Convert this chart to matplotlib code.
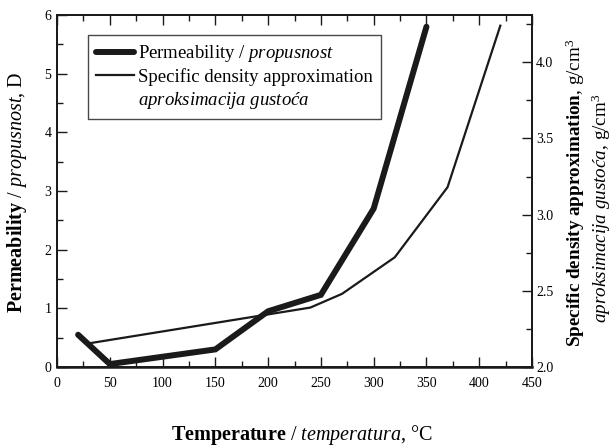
import matplotlib
matplotlib.use("Agg")
import matplotlib.pyplot as plt
from matplotlib.ticker import MultipleLocator, FormatStrFormatter
from matplotlib.lines import Line2D

plt.rcParams["font.family"] = ["Liberation Serif", "DejaVu Serif"]
plt.rcParams["mathtext.fontset"] = "custom"
plt.rcParams["mathtext.rm"] = "Liberation Serif"
plt.rcParams["mathtext.it"] = "Liberation Serif:italic"
plt.rcParams["mathtext.bf"] = "Liberation Serif:bold"

# Permeability vs temperature
perm_temp = [20, 50, 150, 200, 250, 300, 350]
perm_vals = [0.55, 0.05, 0.30, 0.95, 1.23, 2.70, 5.80]

# Specific density approximation vs temperature
dens_temp = [30, 240, 270, 320, 370, 420]
dens_vals = [2.155, 2.39, 2.48, 2.72, 3.18, 4.24]

x_ticks = [0, 50, 100, 150, 200, 250, 300, 350, 400, 450]
left_ticks = [0, 1, 2, 3, 4, 5, 6]
right_ticks = [2.0, 2.5, 3.0, 3.5, 4.0]

ink = "#1a1a1a"

fig = plt.figure(figsize=(6.12, 4.48), dpi=100)
ax = fig.add_axes([57 / 612, 1 - 367 / 448, (532 - 57) / 612, (367 - 15) / 448])
ax2 = ax.twinx()

ax.plot(perm_temp, perm_vals, color=ink, lw=4.3, solid_capstyle="round",
        solid_joinstyle="miter", zorder=3)
ax2.plot(dens_temp, dens_vals, color=ink, lw=1.6, solid_joinstyle="miter", zorder=3)

ax.set_xlim(0, 450)
ax.set_ylim(0, 6)
ax2.set_ylim(2.0, 4.31)

ax.set_xticks(x_ticks)
ax.xaxis.set_minor_locator(MultipleLocator(25))
ax.set_yticks(left_ticks)
ax.yaxis.set_minor_locator(MultipleLocator(0.5))
ax2.set_yticks(right_ticks)
ax2.yaxis.set_minor_locator(MultipleLocator(0.25))
ax2.yaxis.set_major_formatter(FormatStrFormatter("%.1f"))

for a in (ax, ax2):
    for s in a.spines.values():
        s.set_linewidth(1.3)
        s.set_color(ink)
ax.spines["bottom"].set_linewidth(1.8)

ax.tick_params(axis="x", which="both", direction="in", top=True, bottom=True,
               labelsize=10, pad=7, color=ink)
ax.tick_params(axis="y", which="both", direction="in", left=True, right=False,
               labelsize=10, pad=4, color=ink)
ax.tick_params(which="major", length=7, width=1)
ax.tick_params(which="minor", length=4, width=1)
ax2.tick_params(axis="y", which="both", direction="in", labelsize=10, pad=3, color=ink)
ax2.tick_params(which="major", length=7, width=1)
ax2.tick_params(which="minor", length=4, width=1)

label_size = 14.5
side_size = 13.8
fig.text(17 / 612, 1 - 192 / 448,
         r"$\mathbf{Permeability}$ / $\mathit{propusnost}$, D",
         rotation=90, ha="center", va="center", fontsize=label_size)
fig.text(302 / 612, 1 - 435 / 448,
         r"$\mathbf{Temperature}$ / $\mathit{temperatura}$, °C",
         ha="center", va="center", fontsize=label_size)
fig.text(575 / 612, 1 - 193 / 448,
         r"$\mathbf{Specific\ density\ approximation}$, g/cm$^3$",
         rotation=90, ha="center", va="center", fontsize=side_size)
fig.text(601 / 612, 1 - 208 / 448,
         r"$\mathit{aproksimacija\ gustoća}$, g/cm$^3$",
         rotation=90, ha="center", va="center", fontsize=side_size)

handles = [Line2D([], [], color=ink, lw=4.3, solid_capstyle="round"),
           Line2D([], [], color=ink, lw=1.6),
           Line2D([], [], color="none", lw=0)]
labels = [r"Permeability / $\mathit{propusnost}$",
          "Specific density approximation",
          r"$\mathit{aproksimacija\ gustoća}$"]
leg = ax.legend(handles, labels, loc="upper left",
                bbox_to_anchor=((88 - 57) / 475, (367 - 35) / 352),
                borderaxespad=0, fontsize=13.5, frameon=True, fancybox=False,
                edgecolor=ink, handlelength=2.0, handletextpad=0.2,
                borderpad=0.45, labelspacing=0.2)
leg.get_frame().set_linewidth(1.0)

fig.savefig("out.png", dpi=100)
